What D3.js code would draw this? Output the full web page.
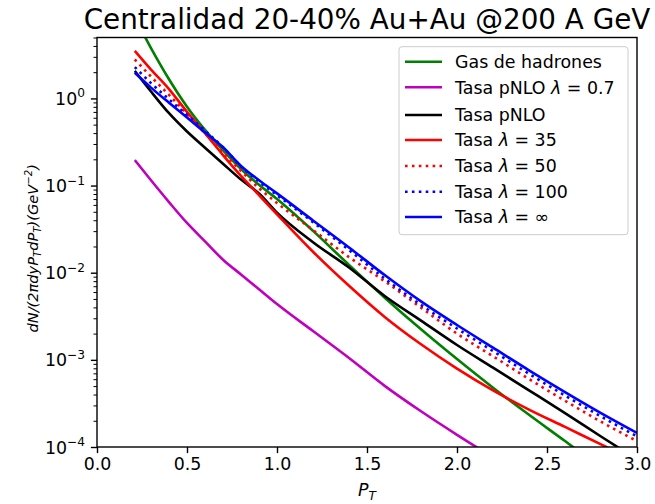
<!DOCTYPE html>
<html><head><meta charset="utf-8">
<script src="https://cdn.jsdelivr.net/npm/d3@7"></script>
<style>body{margin:0;background:#fff}svg{display:block}text{font-family:"DejaVu Sans",sans-serif}</style>
</head><body><svg id="c" width="655" height="504"></svg>
<script>
const pT = [0.21,0.3,0.4,0.5,0.6,0.7,0.8,0.9,1.0,1.2,1.4,1.6,1.8,2.0,2.2,2.4,2.6,2.8,3.0];
const gasHadrones = [8.5,3.78,1.66,0.804,0.435,0.254,0.155,0.102,0.070,0.0302,0.0123,0.00513,0.00224,0.00102,4.79e-4,2.34e-4,1.17e-4,5.75e-5,null];
const pNLO07 = [0.196,0.115,0.0646,0.0372,0.0229,0.0141,0.00955,0.00646,0.00437,0.00214,0.00105,5.0e-4,2.57e-4,1.38e-4,7.6e-5,null,null,null,null];
const pNLO = [2.07,1.20,0.676,0.417,0.272,0.178,0.117,0.0813,0.049,0.0224,0.01148,0.00537,0.00282,0.00148,8.13e-4,4.47e-4,2.45e-4,1.32e-4,7.2e-5];
const lam35 = [3.51,2.14,1.28,0.70,0.398,0.224,0.129,0.0776,0.0468,0.0174,0.00708,0.00309,0.00151,7.94e-4,4.47e-4,2.69e-4,1.70e-4,1.07e-4,6.8e-5];
const lam50 = [2.80,1.78,1.096,0.661,0.398,0.240,0.148,0.0933,0.0631,0.0309,0.0151,0.00794,0.00398,0.0020,0.0011,6.03e-4,3.39e-4,1.95e-4,1.17e-4];
const lam100 = [2.29,1.50,0.977,0.646,0.427,0.275,0.166,0.111,0.0776,0.038,0.0182,0.00851,0.00427,0.00229,0.00126,6.92e-4,3.89e-4,2.24e-4,1.32e-4];
const lamInf = [1.97,1.33,0.891,0.603,0.407,0.275,0.168,0.115,0.0813,0.0398,0.0195,0.00933,0.00468,0.00251,0.00138,7.59e-4,4.27e-4,2.45e-4,1.45e-4];
const xTicks = [0.0,0.5,1.0,1.5,2.0,2.5,3.0];
const yTickExps = [0,-1,-2,-3,-4];

const series = [
  {name:"Gas de hadrones", vals:gasHadrones, color:"#008000", dash:null},
  {name:"Tasa pNLO λ = 0.7", vals:pNLO07, color:"#bf00bf", dash:null},
  {name:"Tasa pNLO", vals:pNLO, color:"#000000", dash:null},
  {name:"Tasa λ = 35", vals:lam35, color:"#ff0000", dash:null},
  {name:"Tasa λ = 50", vals:lam50, color:"#ff0000", dash:"2.6,4.3"},
  {name:"Tasa λ = 100", vals:lam100, color:"#0000ff", dash:"2.6,4.3"},
  {name:"Tasa λ = ∞", vals:lamInf, color:"#0000ff", dash:null}
];

const FS = 17.4, SUB = 12.2;
const svg = d3.select("#c");
const L=97, R=637, T=37.5, B=447;
const x = d3.scaleLinear().domain([0,3]).range([L,R]);
const y = d3.scaleLog().domain([1e-4,5]).range([B,T]);

svg.append("clipPath").attr("id","clip").append("rect").attr("x",L).attr("y",T).attr("width",R-L).attr("height",B-T);

const line = d3.line().defined(d=>d[1]!=null).x(d=>x(d[0])).y(d=>y(d[1])).curve(d3.curveMonotoneX);
const g = svg.append("g").attr("clip-path","url(#clip)");
series.forEach(s=>{
  g.append("path").datum(pT.map((p,i)=>[p,s.vals[i]]))
   .attr("d",line).attr("fill","none").attr("stroke",s.color).attr("stroke-width",2.6)
   .attr("stroke-dasharray",s.dash);
});

// axes
const xAxis = d3.axisBottom(x).tickValues(xTicks).tickFormat(d3.format(".1f")).tickSize(6.1).tickPadding(5);
const gx = svg.append("g").attr("transform",`translate(0,${B})`).call(xAxis);
gx.select(".domain").remove();
gx.selectAll("line").attr("stroke","#000").attr("stroke-width",1.4);
gx.selectAll("text").attr("font-size",FS).attr("fill","#000").attr("font-family","DejaVu Sans");

const minor=[];
for(let e=-4;e<=0;e++){for(let k=2;k<=9;k++){const v=k*Math.pow(10,e); if(v<=5) minor.push(v);}}
const gyMinor = svg.append("g").attr("transform",`translate(${L},0)`).call(d3.axisLeft(y).tickValues(minor).tickSize(3.5).tickFormat(""));
gyMinor.select(".domain").remove();
gyMinor.selectAll("line").attr("stroke","#000").attr("stroke-width",1.0);
const gy = svg.append("g").attr("transform",`translate(${L},0)`).call(d3.axisLeft(y).tickValues(yTickExps.map(e=>Math.pow(10,e))).tickSize(6.1).tickFormat(""));
gy.select(".domain").remove();
gy.selectAll("line").attr("stroke","#000").attr("stroke-width",1.4);
yTickExps.forEach(e=>{
  const t = svg.append("text").attr("x",L-12).attr("y",y(Math.pow(10,e))+6.5).attr("text-anchor","end").attr("font-size",FS).attr("fill","#000");
  t.append("tspan").text("10");
  t.append("tspan").attr("dy",-7.5).attr("font-size",SUB).text(e===0?"0":"−"+(-e));
});

svg.append("rect").attr("x",L).attr("y",T).attr("width",R-L).attr("height",B-T).attr("fill","none").attr("stroke","#000").attr("stroke-width",1.4);

// title
svg.append("text").attr("x",(L+R)/2).attr("y",29).attr("text-anchor","middle").attr("font-size",27.8).attr("fill","#000").text("Centralidad 20-40% Au+Au @200 A GeV");

// x label
const xl = svg.append("text").attr("x",(L+R)/2).attr("y",496).attr("text-anchor","middle").attr("font-size",FS).attr("fill","#000");
xl.append("tspan").attr("font-style","italic").text("P");
xl.append("tspan").attr("font-style","italic").attr("font-size",SUB).attr("dy",3.5).text("T");

// y label
const YF = 14.6, YS = 10.2;
const yl = svg.append("text").attr("transform",`translate(38,${(T+B)/2+6}) rotate(-90)`).attr("text-anchor","middle").attr("font-size",YF).attr("fill","#000").attr("font-style","italic");
yl.append("tspan").text("dN/(2πdyP");
yl.append("tspan").attr("font-size",YS).attr("dy",3).text("T");
yl.append("tspan").attr("dy",-3).text("dP");
yl.append("tspan").attr("font-size",YS).attr("dy",3).text("T");
yl.append("tspan").attr("dy",-3).text(")(GeV");
yl.append("tspan").attr("font-size",YS).attr("dy",-6).text("−2");
yl.append("tspan").attr("dy",6).text(")");

// legend
const lg = svg.append("g");
lg.append("rect").attr("x",399).attr("y",46.7).attr("width",229).attr("height",188).attr("rx",3).attr("fill","#fff").attr("fill-opacity",0.8).attr("stroke","#cccccc").attr("stroke-width",1);
const rowsY=[61.7,87.3,115,140,166,191.7,217];
series.forEach((s,i)=>{
  const yy=rowsY[i];
  lg.append("line").attr("x1",405).attr("x2",442).attr("y1",yy).attr("y2",yy).attr("stroke",s.color).attr("stroke-width",2.6).attr("stroke-dasharray",s.dash);
  const t=lg.append("text").attr("x",455).attr("y",yy+6.2).attr("font-size",FS).attr("fill","#000");
  const parts=s.name.split("λ");
  t.append("tspan").text(parts[0]);
  if(parts.length>1){t.append("tspan").attr("font-style","italic").text("λ");t.append("tspan").text(parts[1]);}
});
</script></body></html>
